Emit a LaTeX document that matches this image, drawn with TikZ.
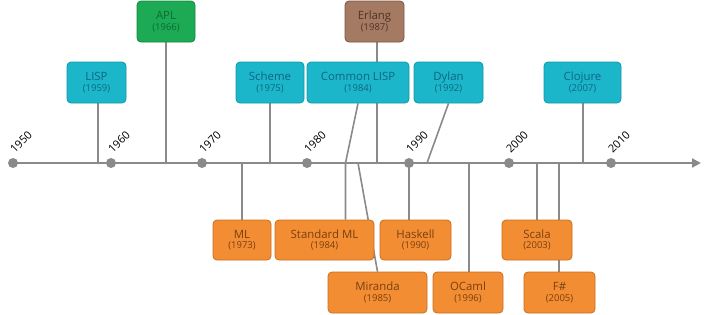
\documentclass[tikz,border=0pt]{standalone}
\usepackage{fontspec}
\setmainfont{Open Sans}
\usetikzlibrary{arrows.meta,backgrounds}
\definecolor{cyanF}{HTML}{1CB6CA}
\definecolor{cyanD}{HTML}{1297AA}
\definecolor{cyanT}{HTML}{0D6683}
\definecolor{greenF}{HTML}{1DAA55}
\definecolor{greenD}{HTML}{14873F}
\definecolor{greenT}{HTML}{0C6B33}
\definecolor{brownF}{HTML}{A57A62}
\definecolor{brownD}{HTML}{7A5440}
\definecolor{brownT}{HTML}{4E3324}
\definecolor{orangeF}{HTML}{F28D33}
\definecolor{orangeD}{HTML}{C96F1E}
\definecolor{orangeT}{HTML}{7A3F0E}
\definecolor{lineG}{HTML}{8A8A8A}
\newcommand{\yr}[1]{\\[-1.5pt]{\fontsize{9.5}{10}\selectfont(#1)}}
\tikzset{
  lbox/.style={rounded corners=4pt, line width=0.8pt, align=center, inner sep=0pt,
    font=\fontsize{11.4}{12}\selectfont, minimum height=41pt},
  cbox/.style={lbox, fill=cyanF, draw=cyanD, text=cyanT},
  gbox/.style={lbox, fill=greenF, draw=greenD, text=greenT},
  bbox/.style={lbox, fill=brownF, draw=brownD, text=brownT},
  obox/.style={lbox, fill=orangeF, draw=orangeD, text=orangeT, minimum height=40pt},
  conn/.style={draw=lineG, line width=1.6pt},
  yeardot/.style={circle, fill=lineG, minimum size=10pt, inner sep=0pt},
  yearlbl/.style={rotate=45, anchor=south west, inner sep=0pt, font=\fontsize{11}{12}\selectfont}
}
\begin{document}
\begin{tikzpicture}[x=1pt,y=1pt]
\useasboundingbox (0,0) rectangle (720,-314);
% year dots
\node[yeardot] (d1950) at (13,-163) {};
\node[yeardot] (d1960) at (111,-163) {};
\node[yeardot] (d1970) at (202,-163) {};
\node[yeardot] (d1980) at (307,-163) {};
\node[yeardot] (d1990) at (409,-163) {};
\node[yeardot] (d2000) at (509,-163) {};
\node[yeardot] (d2010) at (611,-163) {};
\coordinate (tip) at (701,-163);
\foreach \n/\x in {1950/13,1960/111,1970/202,1980/307,1990/409,2000/509,2010/611}
  \node[yearlbl] (l\n) at (\x+2,-154) {\n};
% axis anchor points
\coordinate (aLISP) at (98,-163);
\coordinate (aAPL) at (166,-163);
\coordinate (aScheme) at (270,-163);
\coordinate (aCL) at (345.5,-163);
\coordinate (aErl) at (377,-163);
\coordinate (aDyl) at (427,-163);
\coordinate (aClo) at (583,-163);
\coordinate (aML) at (242,-163);
\coordinate (aMir) at (358,-163);
\coordinate (aOC) at (469,-163);
\coordinate (aSca) at (537,-163);
\coordinate (aFs) at (559,-163);
% boxes
\node[gbox, minimum width=58pt] (apl) at (166,-21.5) {APL\yr{1966}};
\node[bbox, minimum width=59pt] (erl) at (374.5,-21.5) {Erlang\yr{1987}};
\node[cbox, minimum width=59pt] (lisp) at (96.5,-82.5) {LISP\yr{1959}};
\node[cbox, minimum width=68pt] (scheme) at (270,-82.5) {Scheme\yr{1975}};
\node[cbox, minimum width=102pt] (cl) at (358,-82.5) {Common LISP\yr{1984}};
\node[cbox, minimum width=69pt] (dylan) at (448.5,-82.5) {Dylan\yr{1992}};
\node[cbox, minimum width=77pt] (clojure) at (582.5,-82.5) {Clojure\yr{2007}};
\node[obox, minimum width=58pt] (ml) at (242,-240) {ML\yr{1973}};
\node[obox, minimum width=99pt] (sml) at (324.5,-240) {Standard ML\yr{1984}};
\node[obox, minimum width=71pt] (haskell) at (415.5,-240) {Haskell\yr{1990}};
\node[obox, minimum width=70pt] (scala) at (537,-240) {Scala\yr{2003}};
\node[obox, minimum width=99pt, minimum height=41pt] (miranda) at (377.5,-292.5) {Miranda\yr{1985}};
\node[obox, minimum width=70pt, minimum height=41pt] (ocaml) at (468,-292.5) {OCaml\yr{1996}};
\node[obox, minimum width=71pt, minimum height=41pt] (fsharp) at (559.5,-292.5) {F\#\yr{2005}};
% connectors behind
\begin{scope}[on background layer]
\draw[draw=lineG, line width=2pt, -{Triangle[length=9pt,width=9pt]}] (d1950.center) -- (tip);
\draw[conn] (lisp.south -| aLISP) -- (aLISP);
\draw[conn] (apl.south) -- (aAPL);
\draw[conn] (scheme.south) -- (aScheme);
\draw[conn] (cl.south) -- (aCL) -- (sml.north -| aCL);
\draw[conn] (erl.south -| aErl) -- (aErl);
\draw[conn] (dylan.south) -- (aDyl);
\draw[conn] (clojure.south -| aClo) -- (aClo);
\draw[conn] (ml.north) -- (aML);
\draw[conn] (d1990.center) -- (haskell.north -| d1990);
\draw[conn] (aMir) -- (miranda.north);
\draw[conn] (aOC) -- (ocaml.north -| aOC);
\draw[conn] (aSca) -- (scala.north);
\draw[conn] (aFs) -- (fsharp.north -| aFs);
\end{scope}
\end{tikzpicture}
\end{document}
